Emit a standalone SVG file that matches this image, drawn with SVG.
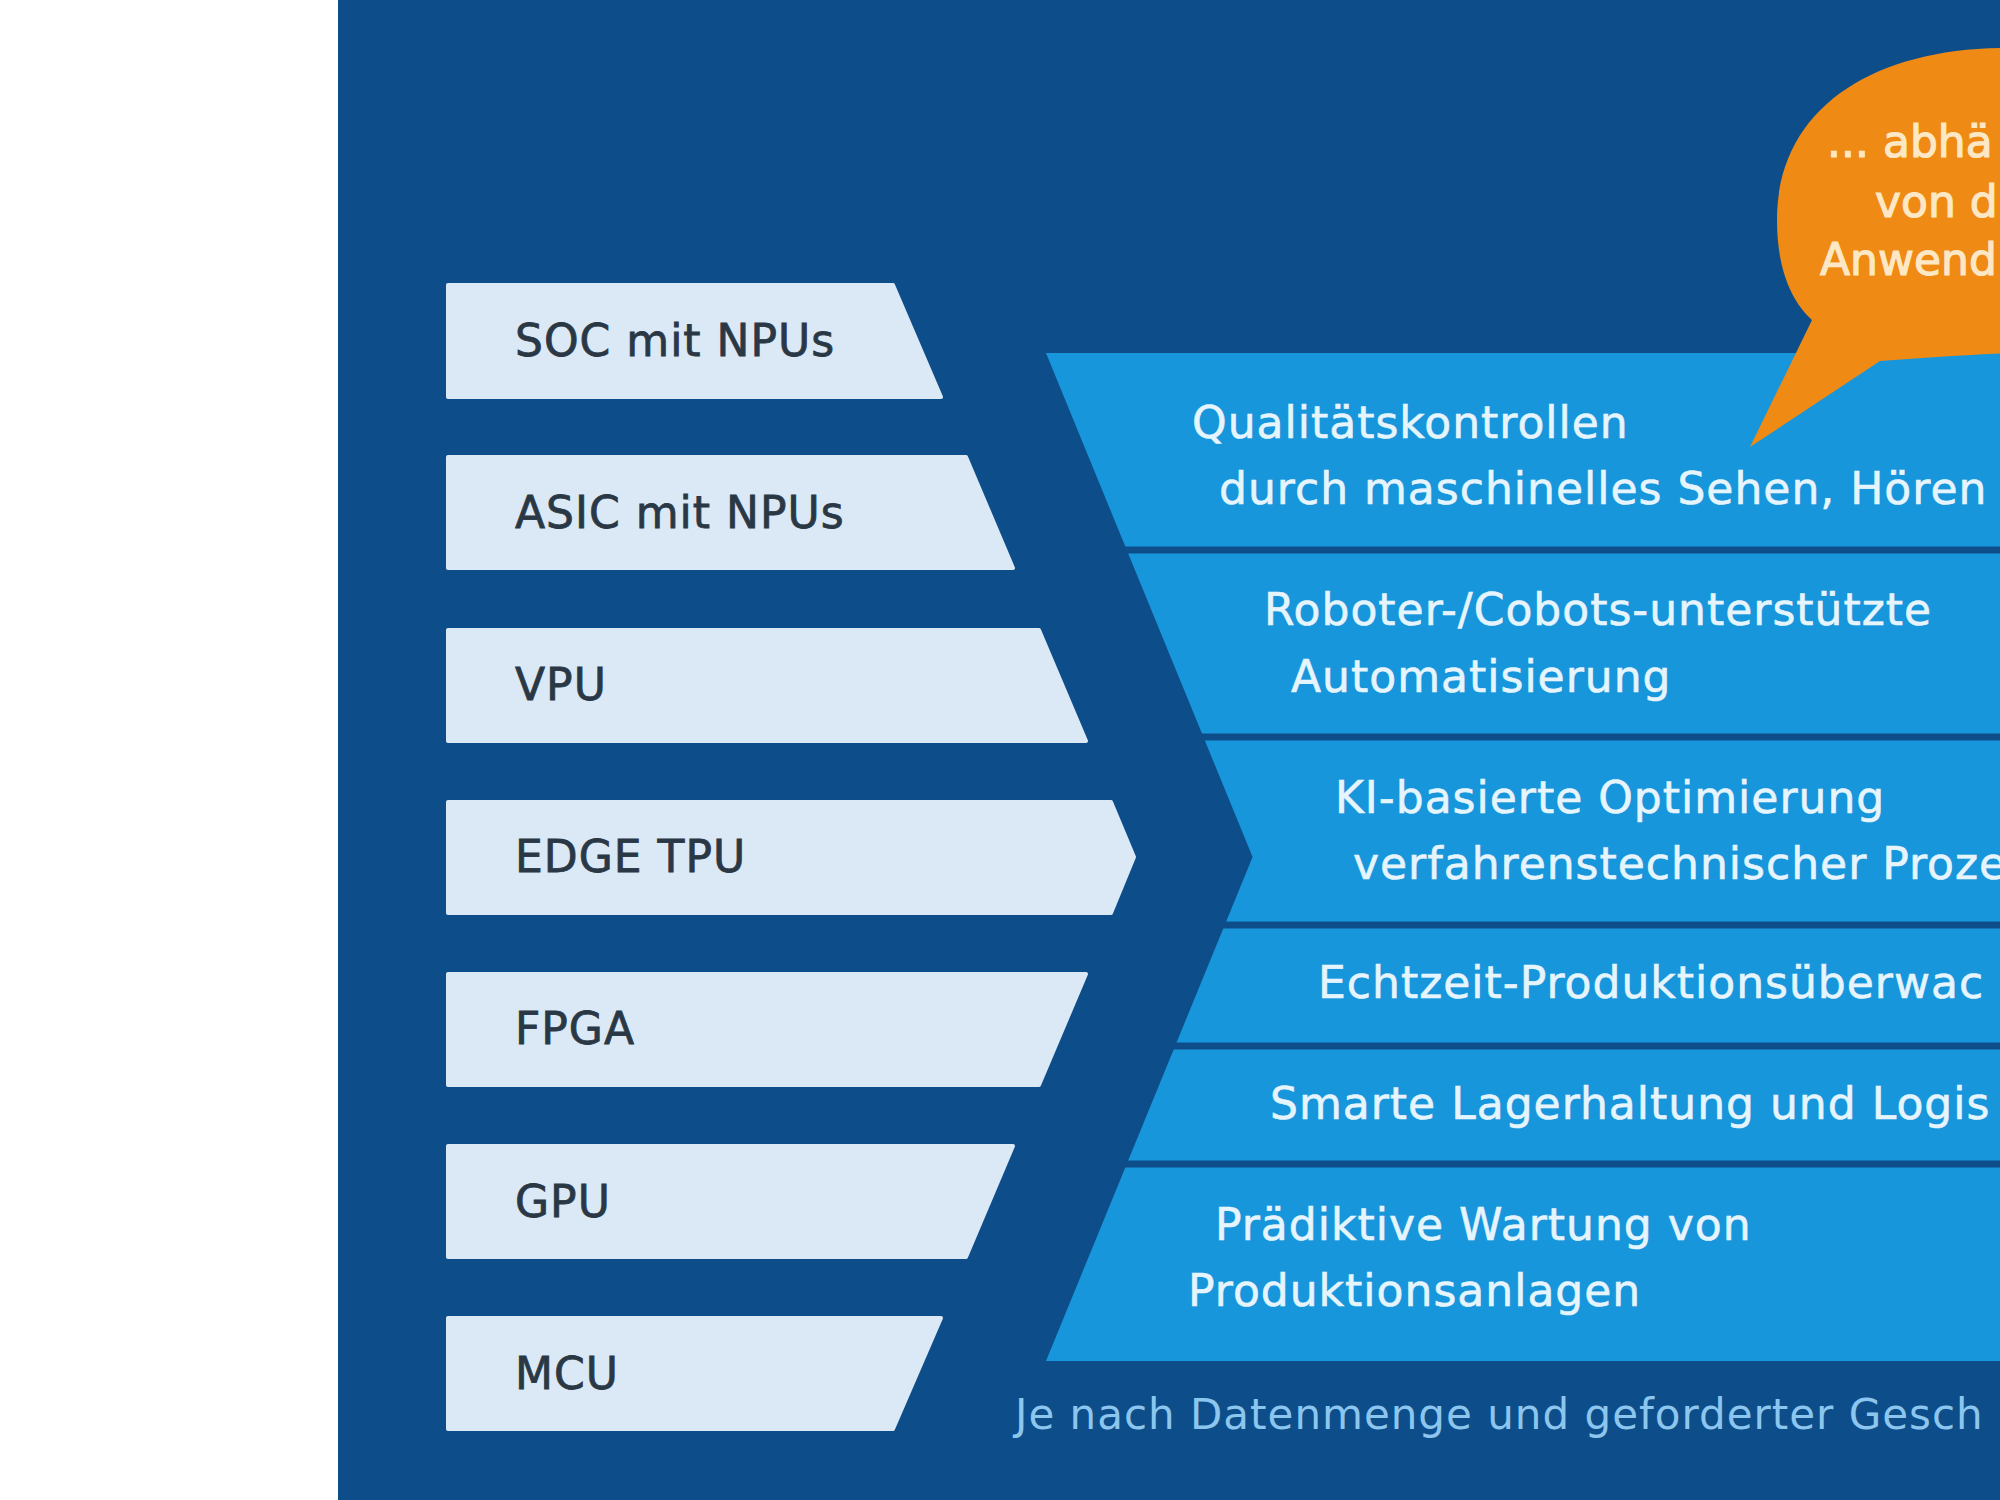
<svg xmlns="http://www.w3.org/2000/svg" width="2000" height="1500" viewBox="0 0 2000 1500">
  <style>
    .bg { fill: #0d4e8a; }
    .chip { fill: #dbe8f5; stroke: #dbe8f5; stroke-width: 4; stroke-linejoin: round; }
    .chipText { font-family: "DejaVu Sans", "Liberation Sans", sans-serif; font-size: 44px; letter-spacing: 1px; fill: #2a3846; stroke: #2a3846; stroke-width: 0.8px; }
    .band { fill: #1896db; }
    .sep { stroke: #0d4e8a; stroke-width: 7; }
    .bandText { font-family: "DejaVu Sans", "Liberation Sans", sans-serif; font-size: 44px; letter-spacing: 1px; fill: #e6f5fd; stroke: #e6f5fd; stroke-width: 0.6px; }
    .note { font-family: "DejaVu Sans", "Liberation Sans", sans-serif; font-size: 42px; letter-spacing: 1px; fill: #8cc6ef; }
    .bubble { fill: #ef8a14; }
    .bubbleText { font-family: "DejaVu Sans", "Liberation Sans", sans-serif; font-size: 44px; fill: #fde8c6; stroke: #fde8c6; stroke-width: 1.2px; }
  </style>
  <rect x="0" y="0" width="2000" height="1500" fill="#ffffff"/>
  <rect class="bg" x="338" y="0" width="1662" height="1500"/>

  <g id="chips">
    <g id="chip-soc">
      <polygon class="chip" points="448,285 893,285 941,397 448,397"/>
      <text class="chipText" x="515" y="356">SOC mit NPUs</text>
    </g>
    <g id="chip-asic">
      <polygon class="chip" points="448,457 966,457 1013,568 448,568"/>
      <text class="chipText" x="515" y="528">ASIC mit NPUs</text>
    </g>
    <g id="chip-vpu">
      <polygon class="chip" points="448,630 1039,630 1086,741 448,741"/>
      <text class="chipText" x="515" y="700">VPU</text>
    </g>
    <g id="chip-edgetpu">
      <polygon class="chip" points="448,802 1111,802 1134,857 1111,913 448,913"/>
      <text class="chipText" x="515" y="872">EDGE TPU</text>
    </g>
    <g id="chip-fpga">
      <polygon class="chip" points="448,974 1086,974 1039,1085 448,1085"/>
      <text class="chipText" x="515" y="1044">FPGA</text>
    </g>
    <g id="chip-gpu">
      <polygon class="chip" points="448,1146 1013,1146 966,1257 448,1257"/>
      <text class="chipText" x="515" y="1217">GPU</text>
    </g>
    <g id="chip-mcu">
      <polygon class="chip" points="448,1318 941,1318 893,1429 448,1429"/>
      <text class="chipText" x="515" y="1389">MCU</text>
    </g>
  </g>

  <g id="applications">
    <polygon class="band" points="1046,353 2000,353 2000,1361 1046,1361 1252.6,857"/>
    <g id="separators">
      <line class="sep" x1="1100" y1="550" x2="2000" y2="550"/>
      <line class="sep" x1="1160" y1="737" x2="2000" y2="737"/>
      <line class="sep" x1="1180" y1="925" x2="2000" y2="925"/>
      <line class="sep" x1="1120" y1="1046" x2="2000" y2="1046"/>
      <line class="sep" x1="1090" y1="1164" x2="2000" y2="1164"/>
    </g>
    <g id="app-quality">
      <text class="bandText" x="1192" y="438">Qualitätskontrollen</text>
      <text class="bandText" x="1219" y="504">durch maschinelles Sehen, Hören</text>
    </g>
    <g id="app-robots">
      <text class="bandText" x="1264" y="625">Roboter-/Cobots-unterstützte</text>
      <text class="bandText" x="1291" y="692">Automatisierung</text>
    </g>
    <g id="app-ki">
      <text class="bandText" x="1335" y="813">KI-basierte Optimierung</text>
      <text class="bandText" x="1353" y="879">verfahrenstechnischer Proze</text>
    </g>
    <g id="app-echtzeit">
      <text class="bandText" x="1318" y="998">Echtzeit-Produktionsüberwac</text>
    </g>
    <g id="app-lager">
      <text class="bandText" x="1270" y="1119">Smarte Lagerhaltung und Logis</text>
    </g>
    <g id="app-wartung">
      <text class="bandText" x="1215" y="1240">Prädiktive Wartung von</text>
      <text class="bandText" x="1188" y="1306">Produktionsanlagen</text>
    </g>
  </g>

  <g id="bubble">
    <path class="bubble" d="M 1750 447 L 1812 320 C 1792 302 1777 270 1777 220 C 1777 110 1870 50 2000 48 L 2010 48 L 2010 353 C 1960 355 1920 358 1880 361 Z"/>
    <text class="bubbleText" x="1827" y="157">... abhä</text>
    <text class="bubbleText" x="1875" y="217">von d</text>
    <text class="bubbleText" x="1820" y="275">Anwend</text>
  </g>

  <g id="footnote">
    <text class="note" x="1015" y="1429">Je nach Datenmenge und geforderter Gesch</text>
  </g>
</svg>
